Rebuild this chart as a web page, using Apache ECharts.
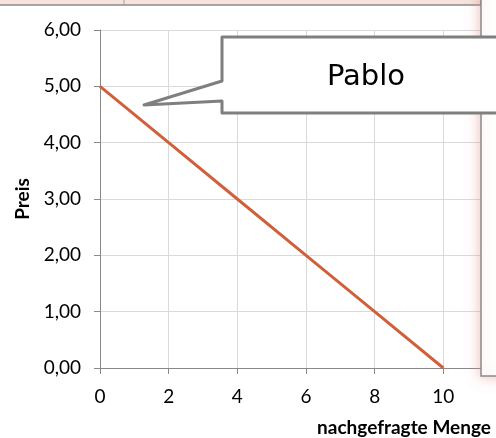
<!DOCTYPE html>
<html>
<head>
<meta charset="utf-8">
<script src="https://cdn.jsdelivr.net/npm/echarts@6.0.0/dist/echarts.min.js"></script>
<style>
html,body{margin:0;padding:0;background:#fff;}
#chart{width:496px;height:438px;}
</style>
</head>
<body>
<div id="chart"></div>
<script>
// Data
const mengen = [0, 2, 4, 6, 8, 10];
const preise = [5, 4, 3, 2, 1, 0];
const xTitle = 'nachgefragte Menge';
const yTitle = 'Preis';
const calloutText = 'Pablo';

const chart = echarts.init(document.getElementById('chart'), null, {renderer: 'canvas'});
const axisFont = 'Lato, "Open Sans", sans-serif';
const option = {
  animation: false,
  backgroundColor: '#ffffff',
  grid: {left: 100, top: 30, bottom: 70, right: -16, containLabel: false, outerBoundsMode: 'none'},
  xAxis: {
    type: 'value', min: 0, max: 12, interval: 2,
    name: xTitle, nameLocation: 'middle', nameGap: 50,
    nameTextStyle: {fontFamily: axisFont, fontWeight: 'bold', fontSize: 19, color: '#000', padding: [0, 0, 0, 196]},
    axisLine: {show: true, lineStyle: {color: '#898989', width: 1}},
    axisTick: {show: true, inside: false, length: 6, lineStyle: {color: '#898989'}},
    axisLabel: {fontFamily: axisFont, fontSize: 19, color: '#000', margin: 19},
    splitLine: {show: true, lineStyle: {color: '#d9d9d9', width: 1}}
  },
  yAxis: {
    type: 'value', min: 0, max: 6, interval: 1,
    name: yTitle, nameLocation: 'middle', nameGap: 67, nameRotate: 90,
    nameTextStyle: {fontFamily: axisFont, fontWeight: 'bold', fontSize: 19, color: '#000'},
    axisLine: {show: true, lineStyle: {color: '#898989', width: 1}},
    axisTick: {show: true, inside: false, length: 6, lineStyle: {color: '#898989'}},
    axisLabel: {fontFamily: axisFont, fontSize: 19, color: '#000', margin: 19,
      formatter: v => v.toFixed(2).replace('.', ',')},
    splitLine: {show: true, lineStyle: {color: '#d9d9d9', width: 1}}
  },
  series: [{
    type: 'line',
    data: mengen.map((m, i) => [m, preise[i]]),
    showSymbol: false,
    lineStyle: {color: '#d0603c', width: 3},
    z: 3
  }],
  graphic: [
    {type: 'rect', z: 10, shape: {x: -5, y: -10, width: 486, height: 15},
      style: {fill: '#f6e3df', stroke: '#8a8a8a', lineWidth: 1.5}},
    {type: 'line', z: 11, shape: {x1: 124, y1: 0, x2: 124, y2: 5},
      style: {stroke: '#a0a0a0', lineWidth: 1}},
    {type: 'rect', z: 12, shape: {x: 481, y: -10, width: 30, height: 386},
      style: {fill: '#ffffff', stroke: '#8a8a8a', lineWidth: 1.5,
        shadowBlur: 14, shadowColor: 'rgba(225,140,125,0.55)'}},
    {type: 'polygon', z: 13,
      shape: {points: [[222, 37], [520, 37], [520, 113], [222, 113], [222, 101], [144, 105], [222, 81]]},
      style: {fill: '#ffffff', stroke: '#7f7f7f', lineWidth: 3, lineJoin: 'round'}},
    {type: 'text', z: 14, x: 366, y: 77,
      style: {text: calloutText, font: '29px "DejaVu Sans", sans-serif', fill: '#000',
        textAlign: 'center', textVerticalAlign: 'middle'}}
  ]
};
chart.setOption(option);
</script>
</body>
</html>
